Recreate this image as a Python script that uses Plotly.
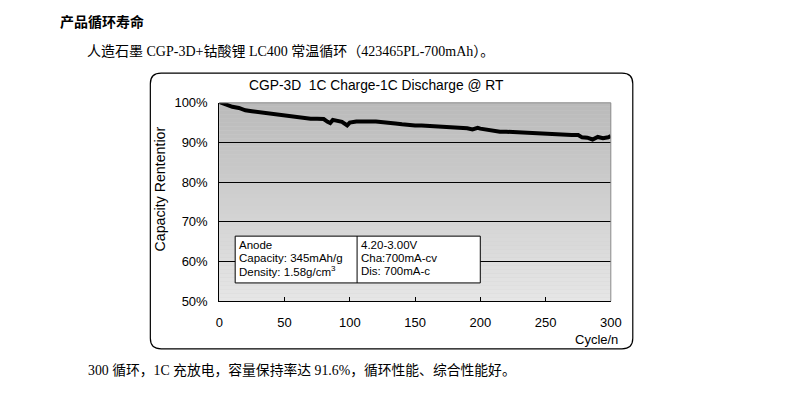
import plotly.graph_objects as go

# ---- data ----
cycles = [0, 5, 10, 15, 20, 25, 30, 35, 40, 45, 50, 55, 60, 65, 70, 75, 80, 83, 85, 87,
          90, 94, 98, 100, 105, 110, 115, 120, 125, 130, 135, 140, 145, 150, 155, 160,
          165, 170, 175, 180, 185, 190, 194, 198, 200, 205, 210, 215, 220, 225, 230, 235,
          240, 245, 250, 255, 260, 265, 270, 275, 278, 282, 286, 290, 294, 298, 300]
retention = [100.2, 99.6, 99.0, 98.7, 98.1, 97.9, 97.7, 97.4, 97.1, 96.9, 96.7, 96.5, 96.3,
             96.2, 96.0, 96.0, 95.9, 95.2, 94.9, 95.7, 95.5, 95.2, 94.3, 95.0, 95.3, 95.4,
             95.3, 95.3, 95.2, 95.0, 94.8, 94.6, 94.4, 94.3, 94.3, 94.2, 94.1, 94.0, 94.0,
             93.9, 93.8, 93.6, 93.3, 93.7, 93.5, 93.2, 92.8, 92.7, 92.7, 92.6, 92.5, 92.4,
             92.3, 92.3, 92.2, 92.1, 92.1, 92.0, 91.9, 91.9, 91.3, 91.2, 90.75, 91.4, 91.1,
             91.3, 91.6]
x_ticks = [0, 50, 100, 150, 200, 250, 300]
y_ticks = [50, 60, 70, 80, 90, 100]
y_tick_labels = ["50%", "60%", "70%", "80%", "90%", "100%"]

chart_title = "CGP-3D\u00a0 1C Charge-1C Discharge @ RT"
y_title = "Capacity Rententior"
x_title = "Cycle/n"
page_heading = "产品循环寿命"
page_line = "人造石墨 CGP-3D+钴酸锂 LC400 常温循环（423465PL-700mAh）。"
page_footer = "300 循环，1C 充放电，容量保持率达 91.6%，循环性能、综合性能好。"
box_left = ["Anode", "Capacity: 345mAh/g", "Density: 1.58g/cm<sup>3</sup>"]
box_right = ["4.20-3.00V", "Cha:700mA-cv", "Dis: 700mA-c"]

W, H = 785, 396


# target screen pixel -> layout pixel (the captured picture is slightly shrunk)
def lx(s):
    return (s - 3.5) / 0.982


def ly(s):
    return (s - 3.4) / 0.97


def px(s):
    return lx(s) / W


def py(s):
    return 1 - ly(s) / H


SANS = "Liberation Sans, Arial, sans-serif"
SERIF_CJK = "Liberation Serif, Noto Sans CJK SC, serif"

fig = go.Figure(go.Scatter(x=cycles, y=retention, mode="lines",
                           line=dict(color="black", width=4), hoverinfo="skip"))

shapes = []
# gradient background of the plot area
n = 50
for i in range(n):
    t = i / (n - 1)
    c = int(round(0xe6 + (0xba - 0xe6) * t))
    shapes.append(dict(type="rect", xref="x domain", yref="y domain",
                       x0=0, x1=1, y0=i / n, y1=(i + 1) / n,
                       fillcolor=f"rgb({c},{c},{c})", line=dict(width=0), layer="below"))
# top and right border of plot area
shapes.append(dict(type="line", xref="x domain", yref="y domain", x0=0, x1=1, y0=1, y1=1,
                   line=dict(color="#8c8c8c", width=1)))
shapes.append(dict(type="line", xref="x domain", yref="y domain", x0=1, x1=1, y0=0, y1=1,
                   line=dict(color="#8c8c8c", width=1)))
# rounded chart frame
fx0, fx1, fy0, fy1 = px(150), px(633), py(70), py(348)
rx, ry = 11 / W, 11 / H
path = (f"M {fx0+rx},{fy0} L {fx1-rx},{fy0} Q {fx1},{fy0} {fx1},{fy0-ry} "
        f"L {fx1},{fy1+ry} Q {fx1},{fy1} {fx1-rx},{fy1} "
        f"L {fx0+rx},{fy1} Q {fx0},{fy1} {fx0},{fy1+ry} "
        f"L {fx0},{fy0-ry} Q {fx0},{fy0} {fx0+rx},{fy0} Z")
shapes.append(dict(type="path", xref="paper", yref="paper", path=path,
                   line=dict(color="black", width=1.2)))
# info box
shapes.append(dict(type="rect", xref="x", yref="y", x0=12.2, x1=200, y0=54.6, y1=66.4,
                   fillcolor="white", line=dict(color="black", width=1), layer="above"))
shapes.append(dict(type="line", xref="x", yref="y", x0=105.6, x1=105.6, y0=54.6, y1=66.4,
                   line=dict(color="black", width=1), layer="above"))

annotations = []
annotations.append(dict(text=chart_title, xref="paper", yref="paper", x=px(376.5), y=py(83),
                        xanchor="center", yanchor="middle", showarrow=False,
                        font=dict(family=SANS, size=13.8, color="black")))
annotations.append(dict(text=y_title, xref="paper", yref="paper", x=px(160), y=py(187),
                        xanchor="center", yanchor="middle", textangle=-90, showarrow=False,
                        font=dict(family=SANS, size=14.2, color="black")))
annotations.append(dict(text=x_title, xref="paper", yref="paper", x=px(620), y=py(339),
                        xanchor="right", yanchor="middle", showarrow=False,
                        font=dict(family=SANS, size=13, color="black")))
annotations.append(dict(text=f"<b>{page_heading}</b>", xref="paper", yref="paper",
                        x=px(58), y=py(17.5), xanchor="left", yanchor="middle",
                        showarrow=False,
                        font=dict(family="Noto Sans CJK SC", size=14, color="black")))
annotations.append(dict(text=page_line, xref="paper", yref="paper",
                        x=px(85), y=py(48), xanchor="left", yanchor="middle", showarrow=False,
                        font=dict(family=SERIF_CJK, size=14, color="black")))
annotations.append(dict(text=page_footer, xref="paper", yref="paper",
                        x=px(86), y=py(369), xanchor="left", yanchor="middle",
                        showarrow=False,
                        font=dict(family=SERIF_CJK, size=13.8, color="black")))
row_y = [64.25, 61.0, 57.5]
for txt, yy in zip(box_left, row_y):
    annotations.append(dict(text=txt, xref="x", yref="y", x=13.8, y=yy, xanchor="left",
                            yanchor="middle", showarrow=False,
                            font=dict(family=SANS, size=11.5, color="black")))
for txt, yy in zip(box_right, row_y):
    annotations.append(dict(text=txt, xref="x", yref="y", x=107.2, y=yy, xanchor="left",
                            yanchor="middle", showarrow=False,
                            font=dict(family=SANS, size=11.5, color="black")))

fig.update_layout(
    width=W, height=H, margin=dict(l=0, r=0, t=0, b=0),
    paper_bgcolor="white", plot_bgcolor="#d0d0d0", showlegend=False,
    shapes=shapes, annotations=annotations,
    xaxis=dict(domain=[px(219), px(611)], range=[0, 300], tickvals=x_ticks,
               ticks="inside", ticklen=4, tickcolor="black", showgrid=False, zeroline=False,
               showline=True, linecolor="black", linewidth=1, ticklabelstandoff=9,
               tickfont=dict(family=SANS, size=13, color="black"), fixedrange=True),
    yaxis=dict(domain=[py(300), py(100)], range=[50, 100], tickvals=y_ticks,
               ticktext=y_tick_labels, ticks="", showgrid=True, gridcolor="black",
               gridwidth=1, zeroline=False, showline=True, linecolor="black", linewidth=1,
               ticklabelstandoff=8, tickfont=dict(family=SANS, size=13, color="black"),
               fixedrange=True),
)

fig.write_html(
    "out.html", config={"displayModeBar": False},
    post_script=("document.documentElement.style.margin='0';"
                 "document.documentElement.style.overflow='hidden';"
                 "document.body.style.margin='0';document.body.style.padding='0';"
                 "document.body.style.overflow='hidden';"))
